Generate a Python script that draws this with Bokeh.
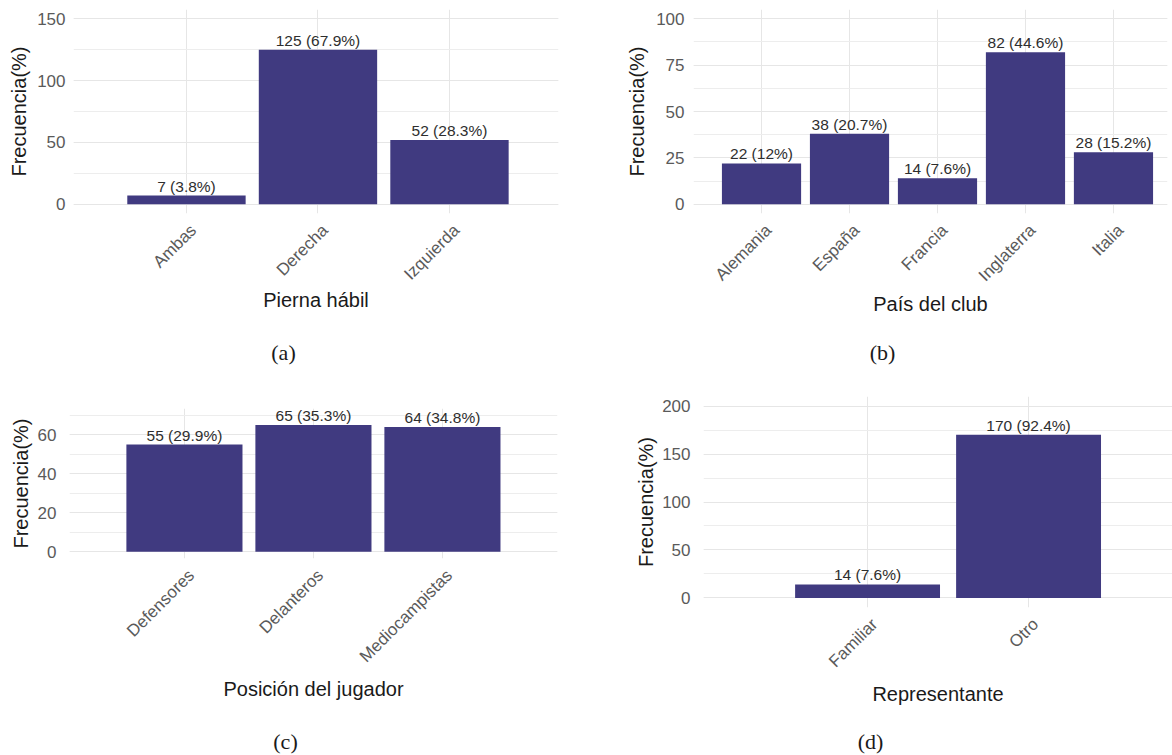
import math

from bokeh.plotting import figure
from bokeh.layouts import row, column
from bokeh.models import Range1d, FixedTicker, SingleIntervalTicker, Label, ColumnDataSource
from bokeh.embed import file_html
from bokeh.resources import INLINE
from bokeh.core.properties import value

# --- data -------------------------------------------------------------
pierna_cats = ["Ambas", "Derecha", "Izquierda"]
pierna_n = [7, 125, 52]
pierna_pct = [3.8, 67.9, 28.3]

pais_cats = ["Alemania", "España", "Francia", "Inglaterra", "Italia"]
pais_n = [22, 38, 14, 82, 28]
pais_pct = [12, 20.7, 7.6, 44.6, 15.2]

pos_cats = ["Defensores", "Delanteros", "Mediocampistas"]
pos_n = [55, 65, 64]
pos_pct = [29.9, 35.3, 34.8]

rep_cats = ["Familiar", "Otro"]
rep_n = [14, 170]
rep_pct = [7.6, 92.4]

captions = ["(a)", "(b)", "(c)", "(d)"]

# --- style ------------------------------------------------------------
BAR = "#403A80"
SANS = "Liberation Sans"
SERIF = "Liberation Serif"
GRID = "#E6E6E6"
GRID_MINOR = "#EDEDED"
TICK_TXT = "#5A5A5A"
LABEL_SHIFT_PX = 7   # rotated tick labels sit slightly right of the bar centre


def bar_panel(cats, counts, pcts, xlabel,
              x_lo, x_hi, y_lo, y_hi, y_step,
              fw, fh, left, right, top, bottom,
              ytick_gap, ytitle_gap, xtitle_gap):
    xs = list(range(1, len(cats) + 1))
    labels = [f"{n} ({p:g}%)" for n, p in zip(counts, pcts)]
    src = ColumnDataSource(dict(x=xs, n=counts, lab=labels))

    p = figure(frame_width=fw, frame_height=fh,
               min_border_left=left, min_border_right=right,
               min_border_top=top, min_border_bottom=bottom,
               x_range=Range1d(x_lo, x_hi), y_range=Range1d(y_lo, y_hi),
               output_backend="svg", toolbar_location=None, tools="")
    p.frame_align = False
    p.outline_line_color = None
    p.background_fill_color = "white"
    p.border_fill_color = "white"

    p.vbar(x="x", top="n", width=0.9, source=src,
           fill_color=BAR, line_color=None)
    p.text(x="x", y="n", text="lab", source=src,
           text_align="center", text_baseline="bottom", y_offset=-1,
           text_font=value(SANS), text_font_size="15.5px", text_color="#2E2E2E")

    # category axis: labels keyed on slightly shifted tick positions
    shift = LABEL_SHIFT_PX * (x_hi - x_lo) / fw
    tick_pos = [x + shift for x in xs]
    p.xaxis.ticker = FixedTicker(ticks=tick_pos, minor_ticks=[])
    p.xaxis.major_label_overrides = {t: c for t, c in zip(tick_pos, cats)}
    p.xaxis.major_label_orientation = math.pi / 4
    p.yaxis.ticker = SingleIntervalTicker(interval=y_step, num_minor_ticks=2)

    for ax in (p.xaxis[0], p.yaxis[0]):
        ax.axis_line_color = None
        ax.major_tick_line_color = None
        ax.minor_tick_line_color = None
        ax.major_tick_out = 0
        ax.major_tick_in = 0
        ax.minor_tick_out = 0
        ax.minor_tick_in = 0
        ax.major_label_text_font = SANS
        ax.major_label_text_color = TICK_TXT
        ax.axis_label_text_font = SANS
        ax.axis_label_text_font_style = "normal"
        ax.axis_label_text_font_size = "20px"
        ax.axis_label_text_color = "#1A1A1A"

    p.xaxis.major_label_text_font_size = "17px"
    p.yaxis.major_label_text_font_size = "17px"
    p.xaxis.axis_label = xlabel
    p.yaxis.axis_label = "Frecuencia(%)"
    p.yaxis.major_label_standoff = ytick_gap
    p.yaxis.axis_label_standoff = ytitle_gap
    p.xaxis.major_label_standoff = 14
    p.xaxis.axis_label_standoff = xtitle_gap

    # grid at the category centres
    p.xgrid.ticker = FixedTicker(ticks=xs, minor_ticks=[])
    p.xgrid.grid_line_color = GRID
    p.ygrid.grid_line_color = GRID
    p.ygrid.minor_grid_line_color = GRID_MINOR
    return p


def caption_strip(text, width, height, cx, cy):
    c = figure(width=width, height=height, x_range=Range1d(0, width),
               y_range=Range1d(0, height), x_axis_type=None, y_axis_type=None,
               min_border=0, output_backend="svg", toolbar_location=None, tools="")
    c.frame_align = False
    c.outline_line_color = None
    c.grid.visible = False
    c.add_layout(Label(x=cx, y=cy, text=text, text_align="center",
                       text_baseline="middle", text_font=SERIF,
                       text_font_size="22px", text_color="#1A1A1A"))
    return c


pa = bar_panel(pierna_cats, pierna_n, pierna_pct, "Pierna hábil",
               0.141, 3.829, -7.5, 157.5, 50,
               485, 204, 73, 8, 9, 117, 8, 4, -4)

pb = bar_panel(pais_cats, pais_n, pais_pct, "País del club",
               0.227, 5.614, -5, 105, 25,
               474, 204, 127, 5, 9, 117, 9, 5, -2)

pc = bar_panel(pos_cats, pos_n, pos_pct, "Posición del jugador",
               0.109, 3.892, -3.5, 73.5, 20,
               488, 150, 69, 9, 34, 162, 13, 3, 2)

pd_ = bar_panel(rep_cats, rep_n, rep_pct, "Representante",
                -0.019, 2.894, -10, 210, 50,
                469, 211, 137, 0, 22, 113, 13, 2, 2)

cap_a = caption_strip(captions[0], 566, 44, 283, 22)
cap_b = caption_strip(captions[1], 606, 44, 316, 22)
cap_c = caption_strip(captions[2], 566, 35, 285, 14)
cap_d = caption_strip(captions[3], 606, 35, 304, 14)

layout = column(row(pa, pb), row(cap_a, cap_b),
                row(pc, pd_), row(cap_c, cap_d))

with open("out.html", "w") as f:
    f.write(file_html(layout, INLINE))
